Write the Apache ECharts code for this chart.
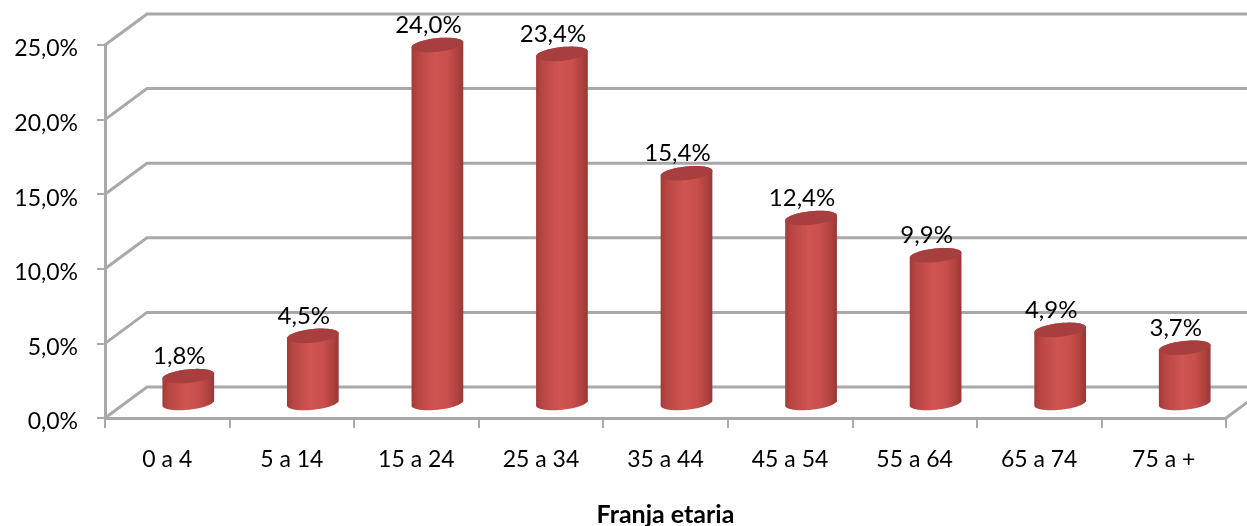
<!DOCTYPE html>
<html><head><meta charset="utf-8">
<style>html,body{margin:0;padding:0;background:#fff}#c{width:1247px;height:526px}</style>
<script src="https://cdn.jsdelivr.net/npm/echarts@6/dist/echarts.min.js"></script>
</head><body><div id="c"></div>
<script>
const categories = ['0 a 4','5 a 14','15 a 24','25 a 34','35 a 44','45 a 54','55 a 64','65 a 74','75 a +'];
const shares = [1.8,4.5,24.0,23.4,15.4,12.4,9.9,4.9,3.7];
const gridValues = [0,5,10,15,20,25];
const axisTitle = 'Franja etaria';

const FONT = 'Lato, "Open Sans", sans-serif';
const WALL = '#a9a9a9';
const DX = 42, DY = 31;          // depth of the 3D box
const BX = 21, BY = 15;          // cylinders stand mid-depth
const RX = 26, RY = 6.8, TILT = -6 * Math.PI / 180;
const fmt = v => v.toFixed(1).replace('.', ',') + '%';

function ell(cx, cy, t) {
  const c = Math.cos(t), s = Math.sin(t), ca = Math.cos(TILT), sa = Math.sin(TILT);
  return [cx + RX * c * ca - RY * s * sa, cy + RX * c * sa + RY * s * ca];
}
function arc(cx, cy, a, b, n) {
  const out = [];
  for (let i = 0; i <= n; i++) out.push(ell(cx, cy, a + (b - a) * i / n));
  return out;
}
function renderWall(params, api) {
  const cs = params.coordSys, v = api.value(0);
  const y = api.coord([0, v])[1], x0 = cs.x, x1 = cs.x + cs.width;
  const pts = [[x0, y], [x0 + DX, y - DY], [x1 + DX, y - DY]];
  const kids = [{type:'polyline', shape:{points:pts}, style:{stroke:WALL, lineWidth:3, fill:null}}];
  if (v === 0) kids.push({type:'line', shape:{x1:x1, y1:y, x2:x1 + DX, y2:y - DY}, style:{stroke:WALL, lineWidth:3}});
  return {type:'group', children:kids};
}
function renderBar(params, api) {
  const p = api.coord([api.value(0), api.value(1)]);
  const b = api.coord([api.value(0), 0]);
  const cx = p[0] + BX, top = p[1] - BY, base = b[1] - BY;
  const body = arc(cx, base, 0, Math.PI, 24).concat(arc(cx, top, Math.PI, 2 * Math.PI, 24));
  return {type:'group', children:[
    {type:'polygon', shape:{points:body}, style:{fill:{type:'linear',x:0,y:0,x2:1,y2:0,colorStops:[
      {offset:0,color:'#a23a38'},{offset:0.12,color:'#b84643'},{offset:0.45,color:'#cf5452'},
      {offset:0.7,color:'#c84f4c'},{offset:0.9,color:'#ad413e'},{offset:1,color:'#973735'}]}}},
    {type:'polygon', shape:{points:arc(cx, top, 0, 2 * Math.PI, 48)}, style:{fill:'#a63f3d'}},
    {type:'text', style:{x:cx - 9, y:top - 20, text:fmt(api.value(1)), align:'center', verticalAlign:'middle',
      font:'24px ' + FONT, fill:'#000'}}
  ]};
}
const chart = echarts.init(document.getElementById('c'), null, {renderer:'canvas'});
chart.setOption({
  animation:false,
  backgroundColor:'#fff',
  grid:{left:105, right:21, top:45, bottom:108, containLabel:false, outerBoundsMode:'none'},
  xAxis:{type:'category', data:categories, boundaryGap:true,
    axisLine:{lineStyle:{color:WALL,width:3}},
    axisTick:{show:true,alignWithLabel:false,length:10,lineStyle:{color:WALL,width:2}},
    axisLabel:{color:'#000',fontFamily:FONT,fontSize:23,margin:30,interval:0},
    name:axisTitle,nameLocation:'middle',nameGap:84,
    nameTextStyle:{color:'#000',fontFamily:FONT,fontSize:25,fontWeight:'bold'}},
  yAxis:{type:'value',min:0,max:25,interval:5,
    axisLine:{show:true,lineStyle:{color:WALL,width:3}},
    axisTick:{show:true,length:8,lineStyle:{color:WALL,width:2}},
    splitLine:{show:false},
    axisLabel:{color:'#000',fontFamily:FONT,fontSize:23,margin:27,verticalAlign:'top',lineHeight:8,
      formatter:v=>fmt(v)}},
  series:[
    {type:'custom',coordinateSystem:'cartesian2d',renderItem:renderWall,clip:false,z:1,silent:true,
      encode:{y:0},data:gridValues.map(v=>[v])},
    {type:'custom',coordinateSystem:'cartesian2d',renderItem:renderBar,clip:false,z:3,silent:true,
      encode:{x:0,y:1},data:shares.map((v,i)=>[i,v])}
  ]
});
</script></body></html>
